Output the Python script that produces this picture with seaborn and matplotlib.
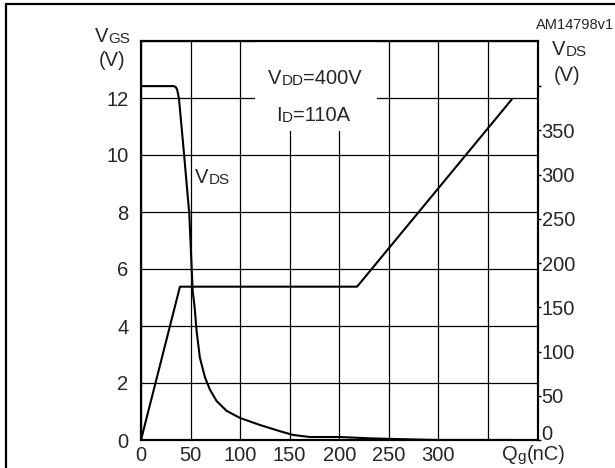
import matplotlib
matplotlib.use("Agg")
import matplotlib.pyplot as plt
from matplotlib.lines import Line2D
from matplotlib.patches import Rectangle
import seaborn as sns

# Gate charge curve
qg_vgs = [0, 39.3, 218, 374]
vgs = [0, 5.38, 5.38, 11.95]

qg_vds = [0, 33, 35, 36.5, 38.3, 41, 43.6, 46, 48.7, 50.5, 52.1, 54.1, 56.1,
          59.4, 64.5, 69.5, 76.3, 86.3, 99.7, 119.9, 140, 153.4, 170.3,
          200.5, 230.7, 260, 300, 375]
vds = [400, 400, 399, 396, 386, 353, 321, 290, 256, 210, 169, 150, 123,
       93, 71, 57, 44, 33, 25, 17, 10, 5.7, 3.4,
       3.4, 1.9, 1, 0, 0]

x_ticks = [0, 50, 100, 150, 200, 250, 300, 350, 400]
x_labels = ["0", "50", "100", "150", "200", "250", "300", "", ""]
vgs_ticks = [0, 2, 4, 6, 8, 10, 12, 14]
vgs_labels = ["0", "2", "4", "6", "8", "10", "12", ""]
vds_ticks = [0, 50, 100, 150, 200, 250, 300, 350, 400]
vds_labels = ["0", "50", "100", "150", "200", "250", "300", "350", ""]

sns.set_style("white")
plt.rcParams['font.family'] = ['Liberation Sans', 'DejaVu Sans']

BIG = 14.5
SMALL = 11

fig = plt.figure(figsize=(6.15, 4.68), dpi=100)
ax = fig.add_axes([141 / 615, 28 / 468, (537.5 - 141) / 615, (440 - 41) / 468])
ax2 = ax.twinx()

sns.lineplot(x=qg_vgs, y=vgs, ax=ax, color="black", lw=1.5, estimator=None)
sns.lineplot(x=qg_vds, y=vds, ax=ax2, color="black", lw=1.5, estimator=None)

ax.set_xlim(0, 400)
ax.set_ylim(0, 14)
ax2.set_ylim(0, 451)

ax.set_xticks(x_ticks)
ax.set_xticklabels(x_labels)
ax.set_yticks(vgs_ticks)
ax.set_yticklabels(vgs_labels)
ax2.set_yticks(vds_ticks)
ax2.set_yticklabels(vds_labels)

ax.set_axisbelow(True)
ax.grid(True, color="black", lw=0.9)
ax.tick_params(axis="x", length=0, pad=4.5, labelsize=BIG)
ax.tick_params(axis="y", length=0, pad=9, labelsize=BIG)
ax2.tick_params(axis="y", direction="out", length=2, width=1, pad=1,
                labelsize=BIG, color="black")
# the right-hand "0" sits on the axis line
ax2.yaxis.get_major_ticks()[0].label2.set_verticalalignment("baseline")

for a in (ax, ax2):
    a.set_xlabel("")
    a.set_ylabel("")
    for s in a.spines.values():
        s.set_color("black")
        s.set_linewidth(1.5)

# white box behind the test conditions
ax.add_patch(Rectangle((115, 10.85), 123, 3.15, facecolor="white",
                       edgecolor="none", zorder=1))


def rich(target, x, y, parts, coords):
    prev = target.annotate(parts[0][0], (x, y), xycoords=coords,
                           fontsize=parts[0][1], va="baseline", ha="left")
    for txt, fs in parts[1:]:
        prev = target.annotate(txt, (1, 0), xycoords=prev, fontsize=fs,
                               va="bottom", ha="left")
    return prev


rich(ax, 128, 12.48, [("V", BIG), ("DD", SMALL), ("=400V", BIG)], "data")
rich(ax, 136.5, 11.19, [("I", BIG), ("D", SMALL), ("=110A", BIG)], "data")
rich(ax, 54.4, 9.03, [("V", BIG), ("DS", SMALL)], "data")

rich(ax, 95, 426, [("V", BIG), ("GS", SMALL)], "figure pixels")
ax.annotate("(V)", (112, 402), xycoords="figure pixels", fontsize=BIG,
            ha="center", va="baseline")
rich(ax, 552, 413, [("V", BIG), ("DS", SMALL)], "figure pixels")
ax.annotate("(V)", (567, 387), xycoords="figure pixels", fontsize=BIG,
            ha="center", va="baseline")
rich(ax, 502, 8, [("Q", BIG), ("g", SMALL), ("(nC)", BIG)], "figure pixels")
ax.annotate("AM14798v1", (614, 439), xycoords="figure pixels", fontsize=10.5,
            ha="right", va="baseline")

# frame of the figure (top and left edges visible)
fig.add_artist(Line2D([6 / 615, 6 / 615], [0, 464 / 468], color="black",
                      lw=1.6, transform=fig.transFigure))
fig.add_artist(Line2D([6 / 615, 1], [464 / 468, 464 / 468], color="black",
                      lw=1.6, transform=fig.transFigure))

fig.savefig("out.png", dpi=100)
